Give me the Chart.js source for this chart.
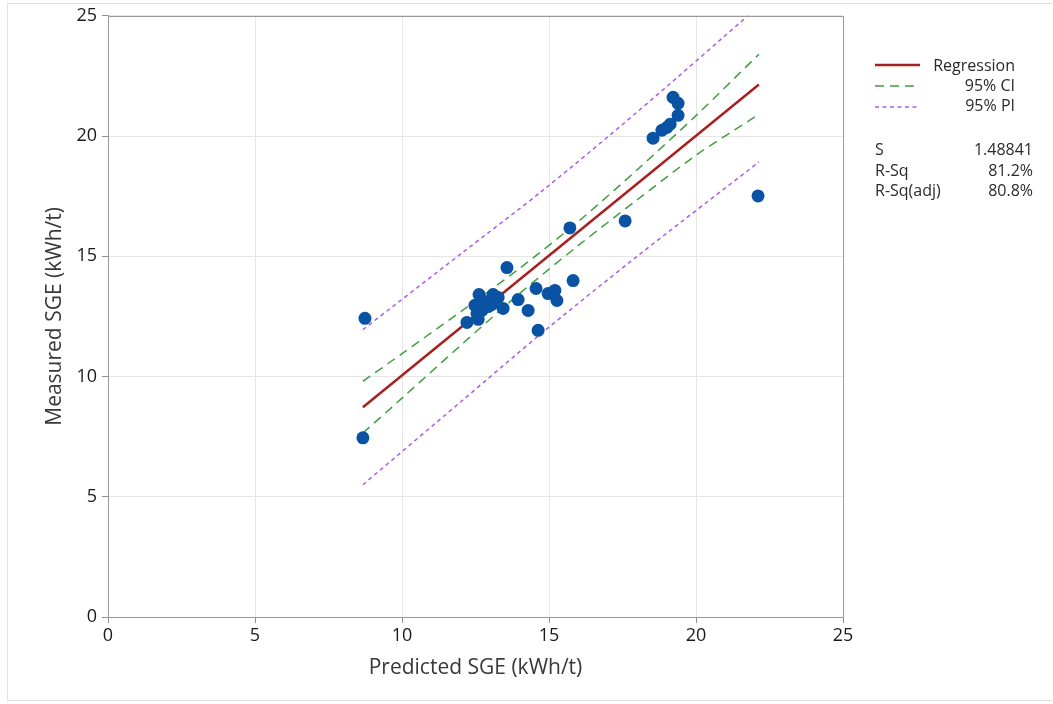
<!DOCTYPE html>
<html>
<head>
<meta charset="utf-8">
<script src="https://cdn.jsdelivr.net/npm/chart.js@4/dist/chart.umd.min.js"></script>
<style>
  html, body { margin: 0; padding: 0; background: #fff; }
  #wrap { position: relative; width: 1053px; height: 704px; overflow: hidden; font-family: "Open Sans", sans-serif; color: #2a2a2a; }
  #frame { position: absolute; left: 7px; top: 3px; width: 1060px; height: 698px; border: 1px solid #e2e2e2; box-sizing: border-box; }
  canvas { position: absolute; left: 0; top: 0; }
  .leg { position: absolute; font-size: 16px; line-height: 20px; white-space: nowrap; }
  .leg svg { position: absolute; left: 0; top: 0; }
</style>
</head>
<body>
<div id="wrap">
  <div id="frame"></div>
  <canvas id="chart" width="1053" height="704"></canvas>
  <div class="leg" style="left:875px; top:55px; width:140px; height:20px;">
    <svg width="46" height="20"><line x1="0" y1="10" x2="45" y2="10" stroke="#a8201f" stroke-width="2.5"/></svg>
    <span style="position:absolute; right:0;">Regression</span>
  </div>
  <div class="leg" style="left:875px; top:75px; width:140px; height:20px;">
    <svg width="46" height="20"><line x1="0" y1="11" x2="45" y2="11" stroke="#3f9f3f" stroke-width="1.5" stroke-dasharray="9,6"/></svg>
    <span style="position:absolute; right:0;">95% CI</span>
  </div>
  <div class="leg" style="left:875px; top:95px; width:140px; height:20px;">
    <svg width="46" height="20"><line x1="0" y1="12" x2="45" y2="12" stroke="#ad5ae6" stroke-width="1.5" stroke-dasharray="4,3.5"/></svg>
    <span style="position:absolute; right:0;">95% PI</span>
  </div>
  <div class="leg" style="left:875px; top:139px; width:158px;">
    <span>S</span><span style="position:absolute; right:0;">1.48841</span>
  </div>
  <div class="leg" style="left:875px; top:160px; width:158px;">
    <span>R-Sq</span><span style="position:absolute; right:0;">81.2%</span>
  </div>
  <div class="leg" style="left:875px; top:180px; width:158px;">
    <span>R-Sq(adj)</span><span style="position:absolute; right:0;">80.8%</span>
  </div>
</div>
<script>
const predicted = [8.74, 8.67, 22.11, 15.71, 17.59, 13.57, 15.82, 14.56, 14.97, 15.20, 15.27,
  13.95, 14.29, 13.44, 14.63, 12.21, 12.62, 13.10, 13.27, 12.48, 12.55, 12.59, 12.93, 12.82,
  13.06, 12.72, 19.22, 19.39, 19.39, 19.12, 19.01, 18.84, 18.54];
const measured = [12.42, 7.45, 17.51, 16.18, 16.47, 14.53, 13.99, 13.66, 13.45, 13.58, 13.16,
  13.20, 12.75, 12.83, 11.92, 12.25, 13.41, 13.41, 13.29, 12.96, 12.62, 12.38, 12.91, 13.12,
  13.00, 12.75, 21.61, 21.36, 20.86, 20.49, 20.36, 20.24, 19.91];

// fitted line
const fitX = [8.67, 22.14];
const fitY = [8.72, 22.14];

// confidence band
const ciX = [8.67, 10, 12, 14, 16, 18, 20, 22.14];
const ciUpper = [9.80, 10.95, 12.70, 14.50, 16.45, 18.60, 20.85, 23.40];
const ciLower = [7.65, 9.10, 11.30, 13.45, 15.45, 17.35, 19.20, 20.90];

// prediction band
const piX = [8.67, 12, 14.8, 18, 22.14];
const piUpper = [11.95, 15.10, 17.75, 21.00, 25.40];
const piLower = [5.50, 8.95, 11.85, 15.00, 18.92];

const axisTicks = [0, 5, 10, 15, 20, 25];

function pts(xs, ys) {
  return xs.map((x, i) => ({ x: x, y: ys[i] }));
}

// gray frame around the plot area
const framePlugin = {
  id: 'frame',
  afterDraw(chart) {
    const a = chart.chartArea;
    const ctx = chart.ctx;
    ctx.save();
    ctx.strokeStyle = '#9a9a9a';
    ctx.lineWidth = 1;
    ctx.strokeRect(Math.round(a.left) + 0.5, Math.round(a.top) + 0.5,
      Math.round(a.right - a.left), Math.round(a.bottom - a.top));
    ctx.restore();
  }
};

const tickFont = { family: 'Open Sans', size: 18 };
const titleFont = { family: 'Open Sans', size: 21 };

new Chart(document.getElementById('chart'), {
  type: 'scatter',
  data: {
    datasets: [
      { label: 'Data', data: pts(predicted, measured), backgroundColor: '#0a52a3', borderWidth: 0, pointRadius: 6.5 },
      { label: 'Regression', data: pts(fitX, fitY), showLine: true, borderColor: '#a8201f', borderWidth: 2.5, pointRadius: 0 },
      { label: '95% CI upper', data: pts(ciX, ciUpper), showLine: true, borderColor: '#3f9f3f', borderWidth: 1.5, borderDash: [9, 6], pointRadius: 0, tension: 0.3 },
      { label: '95% CI lower', data: pts(ciX, ciLower), showLine: true, borderColor: '#3f9f3f', borderWidth: 1.5, borderDash: [9, 6], pointRadius: 0, tension: 0.3 },
      { label: '95% PI upper', data: pts(piX, piUpper), showLine: true, borderColor: '#ad5ae6', borderWidth: 1.5, borderDash: [4, 3.5], pointRadius: 0, tension: 0.3 },
      { label: '95% PI lower', data: pts(piX, piLower), showLine: true, borderColor: '#ad5ae6', borderWidth: 1.5, borderDash: [4, 3.5], pointRadius: 0, tension: 0.3 }
    ]
  },
  options: {
    responsive: false,
    animation: false,
    layout: { padding: { top: 13, right: 210, left: 0, bottom: 0 } },
    plugins: { legend: { display: false }, tooltip: { enabled: false } },
    scales: {
      x: {
        type: 'linear', min: 0, max: 25,
        afterFit: s => { s.height = 87; },
        afterBuildTicks: s => { s.ticks = axisTicks.map(v => ({ value: v })); },
        ticks: { font: tickFont, color: '#1a1a1a', padding: 2, maxRotation: 0 },
        grid: { color: '#e6e6e6', tickColor: '#909090', tickLength: 6 },
        border: { color: '#9a9a9a' },
        title: { display: true, text: 'Predicted SGE (kWh/t)', font: titleFont, color: '#383838', padding: { top: 0, bottom: 23 } }
      },
      y: {
        type: 'linear', min: 0, max: 25,
        afterFit: s => { s.width = 108; },
        afterBuildTicks: s => { s.ticks = axisTicks.map(v => ({ value: v })); },
        ticks: { font: tickFont, color: '#1a1a1a', padding: 5 },
        grid: { color: '#e6e6e6', tickColor: '#909090', tickLength: 6 },
        border: { color: '#9a9a9a' },
        title: { display: true, text: 'Measured SGE (kWh/t)', font: titleFont, color: '#383838', padding: { top: 42, bottom: 0 } }
      }
    }
  },
  plugins: [framePlugin]
});
</script>
</body>
</html>
